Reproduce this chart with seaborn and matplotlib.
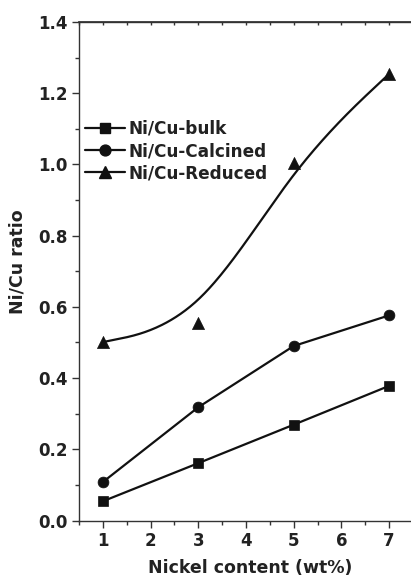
import numpy as np
import matplotlib
matplotlib.use("Agg")
import matplotlib.pyplot as plt
from matplotlib.lines import Line2D
from matplotlib.ticker import MultipleLocator
import seaborn as sns

nickel = [1, 3, 5, 7]
bulk = [0.054, 0.161, 0.269, 0.378]
calcined = [0.108, 0.318, 0.490, 0.576]
reduced = [0.501, 0.555, 1.003, 1.254]
labels = ["Ni/Cu-bulk", "Ni/Cu-Calcined", "Ni/Cu-Reduced"]
x_label = "Nickel content (wt%)"
y_label = "Ni/Cu ratio"


def cubic_bspline(xs, ys, n=60):
    """Uniform cubic B-spline with the data points as control points (end points tripled)."""
    P = np.column_stack([xs, ys]).astype(float)
    P = np.vstack([P[0], P[0], P, P[-1], P[-1]])
    t = np.linspace(0, 1, n)[:, None]
    b0 = (1 - t) ** 3 / 6
    b1 = (3 * t ** 3 - 6 * t ** 2 + 4) / 6
    b2 = (-3 * t ** 3 + 3 * t ** 2 + 3 * t + 1) / 6
    b3 = t ** 3 / 6
    out = [b0 * P[i] + b1 * P[i + 1] + b2 * P[i + 2] + b3 * P[i + 3] for i in range(len(P) - 3)]
    arr = np.vstack(out)
    return arr[:, 0], arr[:, 1]


sns.set_theme(style="ticks")
plt.rcParams["font.family"] = ["DejaVu Sans"]
plt.rcParams["font.weight"] = "bold"

W, H = 411, 577
fig = plt.figure(figsize=(W / 100, H / 100), dpi=100)
left, right, bottom_px, top_px = 79, 412.9, 520.5, 22
ax = fig.add_axes([left / W, 1 - bottom_px / H, (right - left) / W, (bottom_px - top_px) / H])

col = "#111111"
lw = 1.6
ms = 7.5

sns.lineplot(x=nickel, y=bulk, ax=ax, color=col, linewidth=lw, marker="s",
             markersize=ms, markeredgecolor=col, markeredgewidth=0.5)
sns.lineplot(x=nickel, y=calcined, ax=ax, color=col, linewidth=lw, marker="o",
             markersize=ms + 0.3, markeredgecolor=col, markeredgewidth=0.5)
sx, sy = cubic_bspline(nickel, reduced)
sns.lineplot(x=sx, y=sy, ax=ax, color=col, linewidth=lw, sort=False, estimator=None)
sns.scatterplot(x=nickel, y=reduced, ax=ax, color=col, marker="^", s=(ms + 1.2) ** 2,
                edgecolor=col, linewidth=0.5, zorder=5)

ax.set_xlim(0.5, 7.5)
ax.set_ylim(0.0, 1.4)
ax.xaxis.set_major_locator(MultipleLocator(1))
ax.xaxis.set_minor_locator(MultipleLocator(0.5))
ax.yaxis.set_major_locator(MultipleLocator(0.2))
ax.yaxis.set_minor_locator(MultipleLocator(0.1))
ax.yaxis.set_major_formatter(matplotlib.ticker.FormatStrFormatter("%.1f"))

spine_col = "#333333"
for s in ax.spines.values():
    s.set_color(spine_col)
    s.set_linewidth(1.0)
    s.set_visible(True)

ax.tick_params(which="major", direction="out", length=5, width=1.0, color=spine_col,
               labelsize=12, pad=3, labelcolor="#222222")
ax.tick_params(which="minor", direction="out", length=3, width=1.0, color=spine_col)

top = ax.secondary_xaxis("top")
top.xaxis.set_major_locator(MultipleLocator(0.5))
top.tick_params(direction="in", length=2, width=1.0, color=spine_col, labeltop=False)
top.spines["top"].set_color(spine_col)

ax.set_xlabel(x_label, fontsize=12.5, fontweight="bold", color="#222222")
ax.set_ylabel(y_label, fontsize=12.5, fontweight="bold", color="#222222")
ax.xaxis.set_label_coords(0.514, -0.078)
ax.yaxis.set_label_coords(-0.157, 0.52)

handles = [
    Line2D([], [], color=col, lw=lw, marker="s", ms=ms, mec=col),
    Line2D([], [], color=col, lw=lw, marker="o", ms=ms + 0.3, mec=col),
    Line2D([], [], color=col, lw=lw, marker="^", ms=ms + 1.2, mec=col),
]
leg = ax.legend(handles, labels, loc="center left", bbox_to_anchor=(0.018, 0.741),
                bbox_transform=ax.transAxes, frameon=False, borderpad=0, borderaxespad=0,
                handlelength=2.35, handletextpad=0.2, labelspacing=0.25,
                prop={"size": 12.2, "weight": "bold"})
for t in leg.get_texts():
    t.set_color("#222222")

fig.savefig("out.png", dpi=100)
